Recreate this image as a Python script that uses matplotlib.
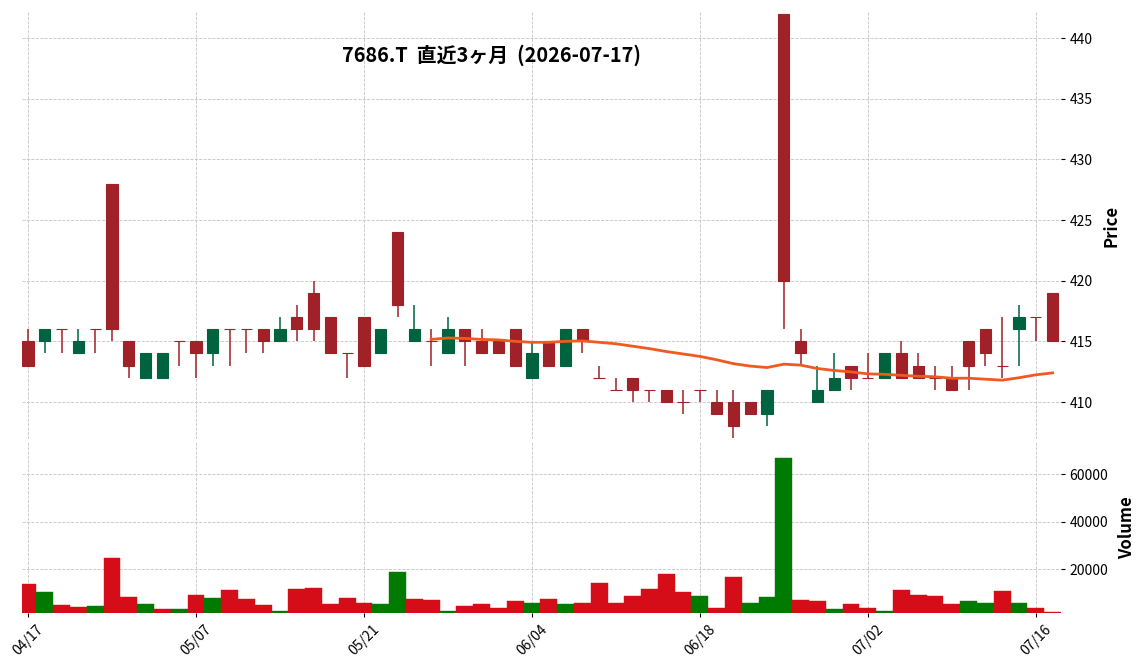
import numpy as np
import pandas as pd
import matplotlib
matplotlib.use("Agg")
import matplotlib.pyplot as plt

plt.rcParams['font.family'] = ['Noto Sans CJK JP', 'DejaVu Sans']

# 7686.T daily bars, 2026-04-17 .. 2026-07-17
dates = ["2026-04-17", "2026-04-20", "2026-04-21", "2026-04-22", "2026-04-23", "2026-04-24",
         "2026-04-27", "2026-04-28", "2026-04-30", "2026-05-01", "2026-05-07", "2026-05-08",
         "2026-05-11", "2026-05-12", "2026-05-13", "2026-05-14", "2026-05-15", "2026-05-18",
         "2026-05-19", "2026-05-20", "2026-05-21", "2026-05-22", "2026-05-25", "2026-05-26",
         "2026-05-27", "2026-05-28", "2026-05-29", "2026-06-01", "2026-06-02", "2026-06-03",
         "2026-06-04", "2026-06-05", "2026-06-08", "2026-06-09", "2026-06-10", "2026-06-11",
         "2026-06-12", "2026-06-15", "2026-06-16", "2026-06-17", "2026-06-18", "2026-06-19",
         "2026-06-22", "2026-06-23", "2026-06-24", "2026-06-25", "2026-06-26", "2026-06-29",
         "2026-06-30", "2026-07-01", "2026-07-02", "2026-07-03", "2026-07-06", "2026-07-07",
         "2026-07-08", "2026-07-09", "2026-07-10", "2026-07-13", "2026-07-14", "2026-07-15",
         "2026-07-16", "2026-07-17"]

opens = [415, 415, 416, 414, 416, 428, 415, 412, 412, 415, 415, 414, 416, 416, 416, 415,
         417, 419, 417, 414, 417, 414, 424, 415, 415, 414, 416, 415, 415, 416, 412, 415,
         413, 416, 412, 411, 412, 411, 411, 410, 411, 410, 410, 410, 409, 442, 415, 410,
         411, 413, 412, 412, 414, 413, 412, 412, 415, 416, 413, 416, 417, 419]
highs = [416, 416, 416, 416, 416, 428, 415, 414, 414, 415, 415, 416, 416, 416, 416, 417,
         418, 420, 417, 414, 417, 416, 424, 418, 416, 417, 416, 416, 415, 416, 415, 415,
         416, 416, 413, 412, 412, 411, 411, 411, 411, 411, 411, 410, 411, 442, 416, 413,
         414, 413, 414, 414, 415, 414, 413, 413, 415, 416, 417, 418, 417, 419]
lows = [413, 414, 414, 414, 414, 415, 412, 412, 412, 413, 412, 413, 413, 414, 414, 415,
        415, 415, 414, 412, 413, 414, 417, 415, 413, 414, 413, 414, 414, 413, 412, 413,
        413, 414, 412, 411, 410, 410, 410, 409, 410, 409, 407, 409, 408, 416, 413, 410,
        411, 411, 412, 412, 412, 412, 411, 411, 411, 413, 412, 413, 415, 415]
closes = [413, 416, 416, 415, 416, 416, 413, 414, 414, 415, 414, 416, 416, 416, 415, 416,
          416, 416, 414, 414, 413, 416, 418, 416, 415, 416, 415, 414, 414, 413, 414, 413,
          416, 415, 412, 411, 411, 411, 410, 410, 411, 409, 408, 409, 411, 420, 414, 411,
          412, 412, 412, 414, 412, 412, 412, 411, 413, 414, 413, 417, 417, 415]
volumes = [13800, 10500, 5000, 4100, 4600, 24800, 8400, 5400, 3300, 3300, 9200, 7900,
           11300, 7500, 5000, 2500, 11700, 12100, 5400, 7900, 5800, 5400, 18900, 7500,
           7100, 2500, 4600, 5400, 3700, 6700, 5800, 7500, 5400, 5800, 14200, 5800,
           8800, 11700, 18000, 10500, 8800, 3700, 16800, 5800, 8400, 66900, 7100, 6700,
           3300, 5400, 3700, 2500, 11300, 9200, 8800, 5400, 6700, 5800, 10900, 5800,
           3800, 2100]

title = "7686.T  直近3ヶ月  (2026-07-17)"

up_c, dn_c = '#006340', '#a02128'
vup_c, vdn_c = '#007a00', '#d50d18'

o = np.array(opens, float)
h = np.array(highs, float)
l = np.array(lows, float)
c = np.array(closes, float)
v = np.array(volumes, float)
x = np.arange(len(dates))
ma25 = pd.Series(c).rolling(25).mean()

ccol = [up_c if cc > oo else dn_c for oo, cc in zip(o, c)]
prev = np.r_[c[0], c[:-1]]
vcol = [vup_c if cc > pp else vdn_c for cc, pp in zip(c, prev)]

W, H = 1144, 670
fig = plt.figure(figsize=(W / 100, H / 100), dpi=100)
ax1 = fig.add_axes([22 / W, 1 - 439 / H, 1039 / W, 427 / H])
ax2 = fig.add_axes([22 / W, 1 - 613 / H, 1039 / W, 171 / H], sharex=ax1)

# candles
ax1.vlines(x, l, h, colors=ccol, linewidth=1.1, zorder=2)
ax1.bar(x, np.abs(c - o), bottom=np.minimum(o, c), width=0.67, color=ccol,
        edgecolor=ccol, linewidth=0.8, zorder=3)
ax1.plot(x, ma25, color='#f05a1e', linewidth=2, zorder=4)

# volume
ax2.bar(x, v, width=1.0, color=vcol, edgecolor=vcol, linewidth=0.3)

tick_idx = list(range(0, len(dates), 10))
for ax in (ax1, ax2):
    for s in ax.spines.values():
        s.set_visible(False)
    ax.grid(True, linestyle='--', color='#c4c4c4', linewidth=0.6)
    ax.set_axisbelow(True)
    ax.yaxis.tick_right()
    ax.yaxis.set_label_position('right')
    ax.tick_params(axis='y', length=3, labelsize=10, pad=3)
    ax.set_xticks(tick_idx)

ax1.set_xlim(-0.36, 61.5)
ax1.set_ylim(406.95, 442.15)
ax1.set_yticks(np.arange(410, 441, 5))
ax1.tick_params(axis='x', length=0, labelbottom=False)
ax1.set_ylabel('Price', fontsize=12, fontweight='bold', labelpad=7)

ax2.set_ylim(1500, 1.1 * v.max())
ax2.set_yticks([20000, 40000, 60000])
ax2.set_xticklabels([pd.Timestamp(dates[i]).strftime('%m/%d') for i in tick_idx],
                    rotation=45, ha='center', fontsize=10)
ax2.tick_params(axis='x', length=3, pad=4)
ax2.set_ylabel('Volume', fontsize=12, fontweight='bold', labelpad=7)

fig.text(491 / W, 1 - 55 / H, title, ha='center', va='center',
         fontsize=14.3, fontweight='bold')

fig.savefig('out.png', dpi=100)
